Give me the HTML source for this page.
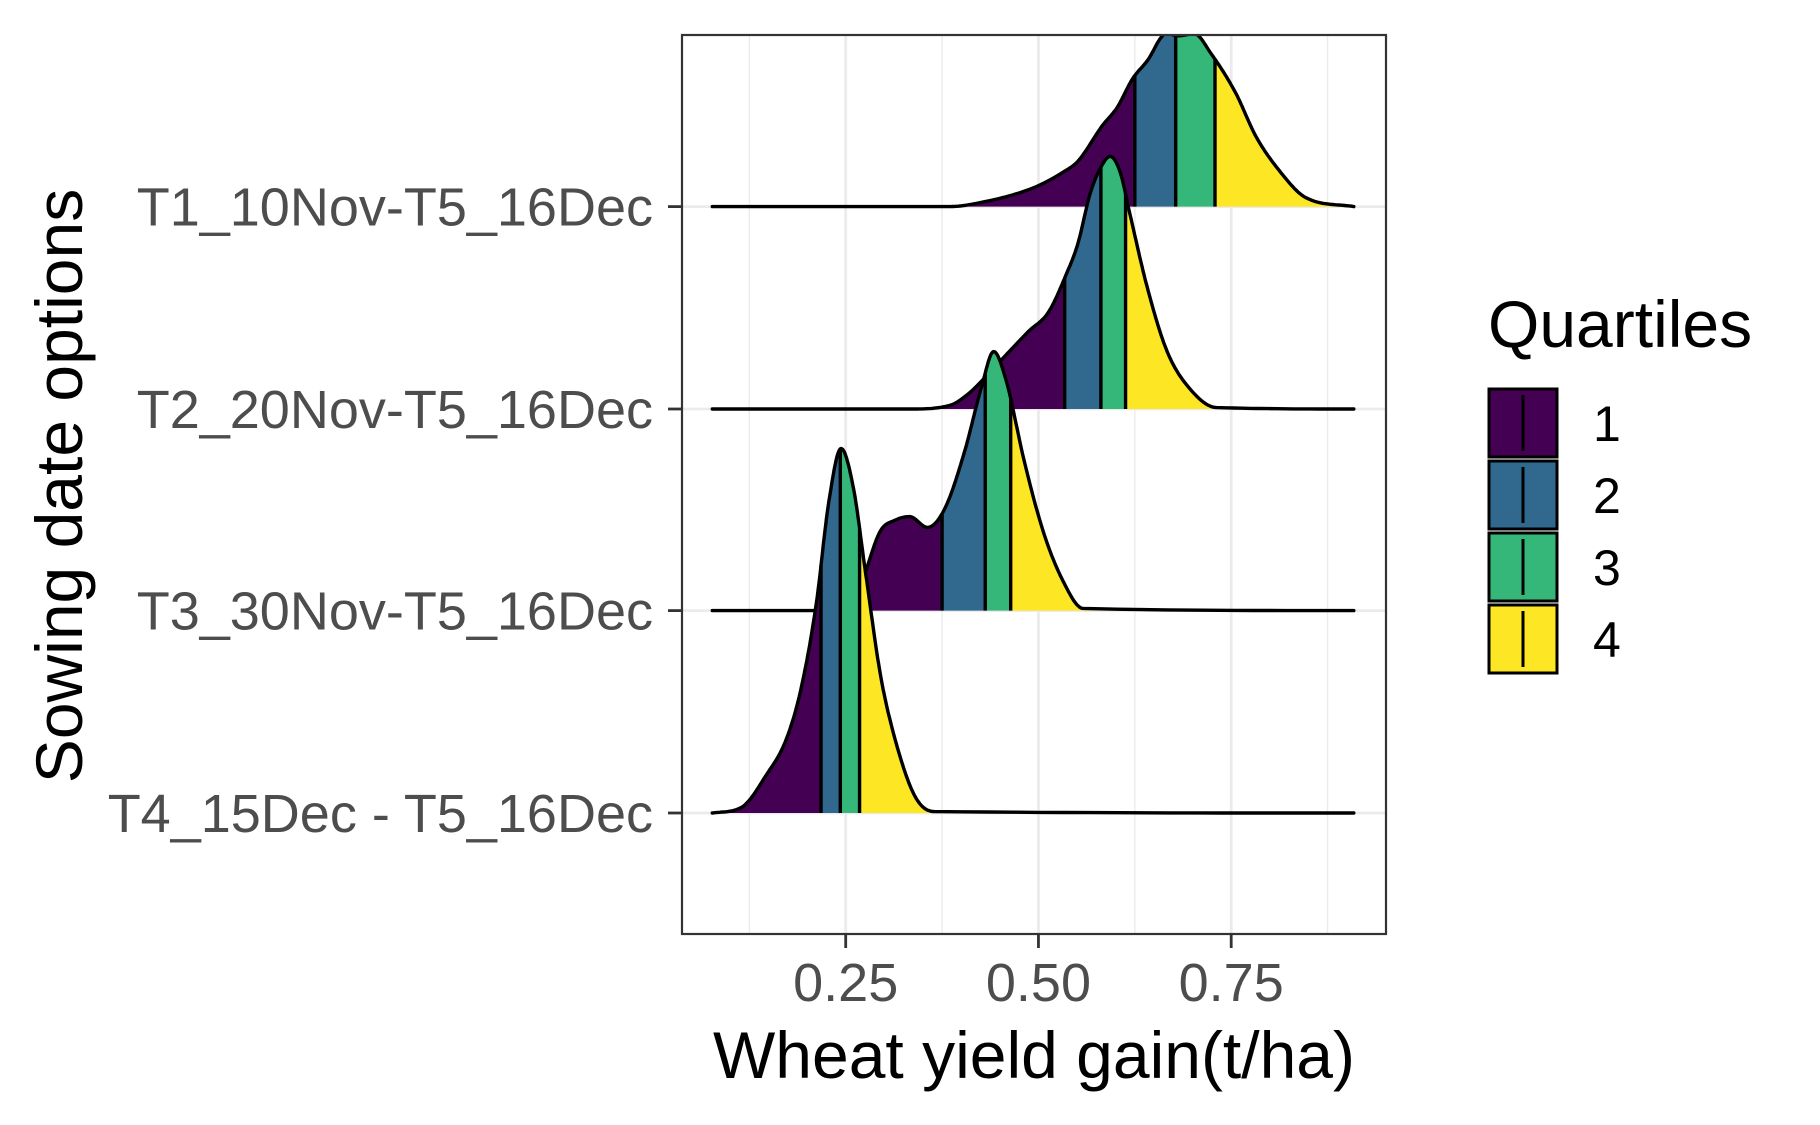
<!DOCTYPE html>
<html><head><meta charset="utf-8"><style>
html,body{margin:0;padding:0;background:#fff;}
svg{display:block;font-family:"Liberation Sans",Arial,sans-serif;}
</style></head><body>
<svg id="chart" width="1820" height="1125" viewBox="0 0 1820 1125">
<defs><clipPath id="panelClip"><rect x="682" y="35" width="704" height="899"/></clipPath></defs>
<rect x="0" y="0" width="1820" height="1125" fill="#fff"/>
<g id="grid"></g>
<g id="ridges" clip-path="url(#panelClip)"></g>
<rect x="682" y="35" width="704" height="899" fill="none" stroke="#333" stroke-width="2.2"/>
<g id="axes"></g>
<text x="1034" y="1078" font-size="66" text-anchor="middle" fill="#000">Wheat yield gain(t/ha)</text>
<text transform="translate(82,486) rotate(-90)" font-size="66" text-anchor="middle" fill="#000">Sowing date options</text>
<g id="legend">
<text x="1488" y="347" font-size="66" fill="#000">Quartiles</text>
</g>
</svg>
<script>
// ---- data ----
const categories = ["T1_10Nov-T5_16Dec","T2_20Nov-T5_16Dec","T3_30Nov-T5_16Dec","T4_15Dec - T5_16Dec"];
const xTicks = [0.25, 0.50, 0.75];
const xTickLabels = ["0.25","0.50","0.75"];
const xMinor = [0.125, 0.375, 0.625, 0.875];
const quartileLabels = ["1","2","3","4"];
const quartileColors = ["#440154","#31688E","#35B779","#FDE725"];
// density curves: x values and density heights
const t1X = [0.077,0.384,0.422,0.493,0.532,0.551,0.583,0.602,0.622,0.641,0.666,0.682,0.702,0.724,0.756,0.782,0.814,0.846,0.909];
const t1D = [0,0,0.5,2.6,4.8,6.3,11.3,13.8,17.8,20.3,24.1,23.8,24.1,21.3,15.8,9.8,4.8,1.3,0];
const t2X = [0.077,0.333,0.385,0.410,0.436,0.462,0.487,0.513,0.535,0.551,0.567,0.580,0.593,0.606,0.619,0.641,0.667,0.699,0.731,0.909];
const t2D = [0,0,0.5,2.2,5.0,8.0,10.8,13.5,18.5,23.0,30.0,33.5,35.2,33.0,27.0,17.0,8.0,2.5,0.2,0];
const t3X = [0.077,0.244,0.269,0.295,0.314,0.333,0.356,0.378,0.404,0.426,0.442,0.458,0.481,0.506,0.532,0.558,0.909];
const t3D = [0,0,3.6,11.1,12.6,13.1,11.6,14.1,22.1,31.1,36.1,32.1,21.1,11.1,4.1,0.3,0];
const t4X = [0.077,0.115,0.147,0.173,0.192,0.212,0.228,0.244,0.260,0.276,0.295,0.314,0.340,0.365,0.909];
const t4D = [0,0.8,5.3,10.3,17.3,29.3,43.3,50.8,45.3,33.3,19.3,10.3,2.3,0.2,0];
const t1Q = [0.625,0.678,0.729];
const t2Q = [0.534,0.581,0.613];
const t3Q = [0.375,0.431,0.464];
const t4Q = [0.218,0.243,0.268];

const seriesX = [t1X,t2X,t3X,t4X];
const seriesD = [t1D,t2D,t3D,t4D];
const seriesQ = [t1Q,t2Q,t3Q,t4Q];

// ---- scales ----
const X0 = 845.7, XPX = 771;
function xs(v){ return X0 + (v - 0.25) * XPX; }
const baselines = [206.6, 409, 610.6, 813];
function ys(i){ return baselines[i]; }
const DPX = 7.175;
function hs(d){ return d * DPX; }

const NS = "http://www.w3.org/2000/svg";
function mk(tag, attrs, parent){ const e=document.createElementNS(NS,tag); for(const k in attrs) e.setAttribute(k,attrs[k]); parent.appendChild(e); return e; }

// grid
const grid = document.getElementById('grid');
xMinor.forEach(v=>{
  const l = mk('line',{x1:xs(v),x2:xs(v),y1:35,y2:934,stroke:'#EBEBEB','stroke-width':1.4},grid);
  
  
});
xTicks.forEach(v=>{
  const l = mk('line',{x1:xs(v),x2:xs(v),y1:35,y2:934,stroke:'#EBEBEB','stroke-width':2.8},grid);
  
  
});
categories.forEach((c,i)=>{
  const l = mk('line',{x1:682,x2:1386,y1:ys(i),y2:ys(i),stroke:'#EBEBEB','stroke-width':2.8},grid);
  
  
});

// monotone cubic interpolation (Fritsch-Carlson)
function dense(xa, da, base){
  const n=xa.length, m=new Array(n), dl=[];
  for(let k=0;k<n-1;k++) dl.push((da[k+1]-da[k])/(xa[k+1]-xa[k]));
  m[0]=dl[0]; m[n-1]=dl[n-2];
  for(let k=1;k<n-1;k++){ m[k]=(dl[k-1]*dl[k]<=0)?0:(dl[k-1]+dl[k])/2; }
  for(let k=0;k<n-1;k++){
    if(dl[k]===0){ m[k]=0; m[k+1]=0; continue; }
    const a=m[k]/dl[k], b=m[k+1]/dl[k], s=a*a+b*b;
    if(s>9){ const t=3/Math.sqrt(s); m[k]=t*a*dl[k]; m[k+1]=t*b*dl[k]; }
  }
  const out=[];
  for(let k=0;k<n-1;k++){
    const h=xa[k+1]-xa[k];
    for(let s=0;s<16;s++){
      const t=s/16, t2=t*t, t3=t2*t;
      const v=(2*t3-3*t2+1)*da[k]+(t3-2*t2+t)*h*m[k]+(-2*t3+3*t2)*da[k+1]+(t3-t2)*h*m[k+1];
      out.push([xs(xa[k]+t*h), base-hs(Math.max(0,v))]);
    }
  }
  out.push([xs(xa[n-1]), base-hs(da[n-1])]);
  return out;
}
function yAt(pts,x){
  for(let k=0;k<pts.length-1;k++){
    if(pts[k][0]<=x && pts[k+1][0]>=x){ const t=(x-pts[k][0])/((pts[k+1][0]-pts[k][0])||1); return pts[k][1]+t*(pts[k+1][1]-pts[k][1]); }
  }
  return pts[pts.length-1][1];
}

const ridges = document.getElementById('ridges');
const defs = document.querySelector('defs');
seriesX.forEach((xa,i)=>{
  const base = ys(i);
  const pts = dense(xa, seriesD[i], base);
  const line = pts.map((p,k)=>(k?'L':'M')+p[0].toFixed(1)+','+p[1].toFixed(1)).join('');
  const area = line + 'L'+pts[pts.length-1][0].toFixed(1)+','+base+'L'+pts[0][0].toFixed(1)+','+base+'Z';
  const g = mk('g',{},ridges);
  
  
  const bounds = [xa[0]].concat(seriesQ[i]).concat([xa[xa.length-1]]);
  for(let q=0;q<4;q++){
    const id='clip'+i+'_'+q;
    const cp = mk('clipPath',{id:id},defs);
    mk('rect',{x:xs(bounds[q]),y:0,width:xs(bounds[q+1])-xs(bounds[q]),height:1125},cp);
    const a = mk('path',{d:area,fill:quartileColors[q],'clip-path':'url(#'+id+')'},g);
    
    
  }
  seriesQ[i].forEach(qv=>{
    const x=xs(qv);
    const l = mk('line',{x1:x,x2:x,y1:base,y2:yAt(pts,x),stroke:'#000','stroke-width':3.4},g);
    
    
  });
  const o = mk('path',{d:line,fill:'none',stroke:'#000','stroke-width':3.4,'stroke-linejoin':'round','stroke-linecap':'round'},g);
  
  
});

// axes
const axes = document.getElementById('axes');
xTicks.forEach((v,k)=>{
  const t = mk('line',{x1:xs(v),x2:xs(v),y1:934,y2:948,stroke:'#333','stroke-width':2.8},axes);
  
  
  const lb = mk('text',{x:xs(v),y:1001,'font-size':54,'text-anchor':'middle',fill:'#4D4D4D'},axes);
  lb.textContent = xTickLabels[k];
  
  
});
categories.forEach((c,i)=>{
  const t = mk('line',{x1:668,x2:682,y1:ys(i),y2:ys(i),stroke:'#333','stroke-width':2.8},axes);
  
  
  const lb = mk('text',{x:653,y:ys(i)+19,'font-size':54,'text-anchor':'end',fill:'#4D4D4D'},axes);
  lb.textContent = c;
  
  
});

// legend
const leg = document.getElementById('legend');
quartileLabels.forEach((q,k)=>{
  const y = 389 + k*72;
  const r = mk('rect',{x:1489,y:y,width:68,height:68,fill:quartileColors[k],stroke:'#000','stroke-width':3},leg);
  
  
  const l = mk('line',{x1:1523,x2:1523,y1:y+6,y2:y+62,stroke:'#000','stroke-width':3},leg);
  
  
  const t = mk('text',{x:1593,y:y+52,'font-size':50,fill:'#000'},leg);
  t.textContent = q;
  
  
});
</script>
</body></html>
